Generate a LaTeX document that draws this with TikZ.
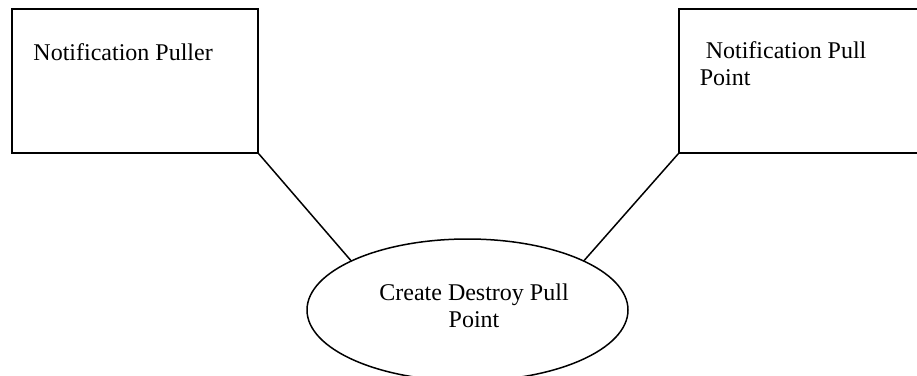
\documentclass[tikz,border=0pt]{standalone}
\usepackage{fontspec}
\setmainfont{Liberation Serif}
\usetikzlibrary{shapes.geometric}
\begin{document}
\begin{tikzpicture}[x=1pt,y=-1pt,line width=1.5pt,
  box/.style={draw, rectangle, inner sep=0pt, minimum width=246pt, minimum height=144pt},
  oval/.style={draw, ellipse, inner sep=0pt, minimum width=321pt, minimum height=142pt},
  lbl/.style={font=\fontsize{24}{27}\selectfont, inner sep=0pt, anchor=base west, align=left},
  link/.style={draw, line width=1.5pt}]
\useasboundingbox (0,0) rectangle (917,375);
\node[box] (puller) at (135,81) {};
\node[box] (pullpoint) at (802,81) {};
\node[oval] (create) at (467.5,310) {};
\node[lbl] (pullertext) at (32.7,60) {Notification Puller};
\node[lbl] (pullpointtext) at (699,85) {\hspace{6pt}Notification Pull\\Point};
\node[lbl, anchor=base, align=center] (createtext) at (474,327) {Create Destroy Pull\\Point};
\draw[link] (puller.south east) -- (create.157);
\draw[link] (pullpoint.south west) -- (create.23);
\end{tikzpicture}
\end{document}
